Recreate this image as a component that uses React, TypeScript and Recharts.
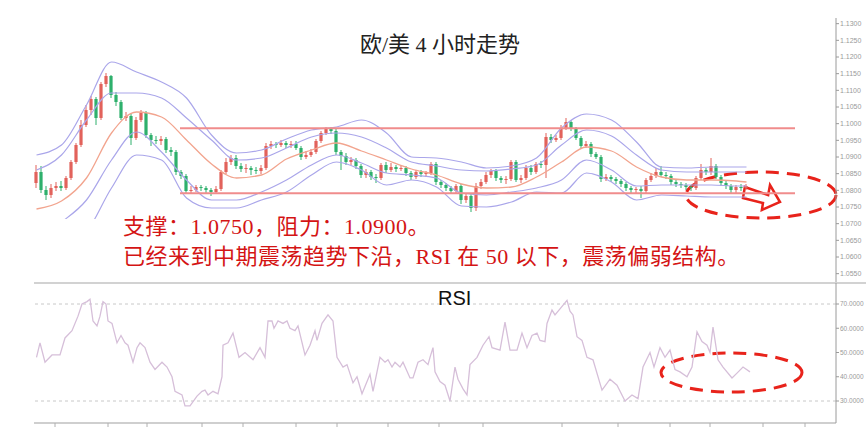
import React from 'react';
import { ComposedChart, Bar, Line, XAxis, YAxis, ReferenceLine, ReferenceArea } from 'recharts';

// ---------- price data (EUR/USD, 4H candles) ----------
const openPrices = [
  1.0822,1.0855,1.0801,1.0786,1.0807,1.0813,1.0807,1.0837,1.0885,1.0936,
  1.0996,1.1041,1.1074,1.1017,1.1119,1.1143,1.1086,1.1065,1.1017,1.1023,
  1.0957,1.1011,1.1032,1.0966,1.0951,1.0948,1.0954,1.0921,1.0915,1.0855,
  1.0843,1.0798,1.0801,1.0810,1.0807,1.0801,1.0795,1.0804,1.0855,1.0885,
  1.0897,1.0873,1.0864,1.0867,1.0861,1.0858,1.0867,1.0933,1.0939,1.0936,
  1.0942,1.0936,1.0939,1.0927,1.0900,1.0906,1.0915,1.0948,1.0972,1.0984,
  1.0978,1.0915,1.0903,1.0885,1.0891,1.0873,1.0846,1.0855,1.0840,1.0837,
  1.0876,1.0861,1.0870,1.0864,1.0867,1.0852,1.0840,1.0855,1.0849,1.0852,
  1.0879,1.0825,1.0816,1.0807,1.0798,1.0813,1.0771,1.0783,1.0747,1.0813,
  1.0825,1.0846,1.0858,1.0837,1.0831,1.0834,1.0885,1.0831,1.0837,1.0867,
  1.0855,1.0879,1.0876,1.0960,1.0951,1.0957,1.0987,1.1005,1.0984,1.0957,
  1.0933,1.0939,1.0909,1.0900,1.0834,1.0840,1.0834,1.0828,1.0819,1.0807,
  1.0801,1.0804,1.0798,1.0831,1.0843,1.0855,1.0846,1.0843,1.0825,1.0819,
  1.0816,1.0810,1.0807,1.0837,1.0861,1.0855,1.0873,1.0840,1.0822,1.0813,
  1.0801,1.0810,1.0807,
];
const closePrices = [
  1.0855,1.0801,1.0786,1.0807,1.0813,1.0807,1.0837,1.0885,1.0936,1.0996,
  1.1041,1.1074,1.1017,1.1119,1.1143,1.1086,1.1065,1.1017,1.1023,1.0957,
  1.1011,1.1032,1.0966,1.0951,1.0948,1.0954,1.0921,1.0915,1.0855,1.0843,
  1.0798,1.0801,1.0810,1.0807,1.0801,1.0795,1.0804,1.0855,1.0885,1.0897,
  1.0873,1.0864,1.0867,1.0861,1.0858,1.0867,1.0933,1.0939,1.0936,1.0942,
  1.0936,1.0939,1.0927,1.0900,1.0906,1.0915,1.0948,1.0972,1.0984,1.0978,
  1.0915,1.0903,1.0885,1.0891,1.0873,1.0846,1.0855,1.0840,1.0837,1.0876,
  1.0861,1.0870,1.0864,1.0867,1.0852,1.0840,1.0855,1.0849,1.0852,1.0879,
  1.0825,1.0816,1.0807,1.0798,1.0813,1.0771,1.0783,1.0747,1.0813,1.0825,
  1.0846,1.0858,1.0837,1.0831,1.0834,1.0885,1.0831,1.0837,1.0867,1.0855,
  1.0879,1.0876,1.0960,1.0951,1.0957,1.0987,1.1005,1.0984,1.0957,1.0933,
  1.0939,1.0909,1.0900,1.0834,1.0840,1.0834,1.0828,1.0819,1.0807,1.0801,
  1.0804,1.0798,1.0831,1.0843,1.0855,1.0846,1.0843,1.0825,1.0819,1.0816,
  1.0810,1.0807,1.0837,1.0861,1.0855,1.0873,1.0840,1.0822,1.0813,1.0801,
  1.0810,1.0807,1.0813,
];
const highPrices = [
  1.0876,1.0873,1.0813,1.0819,1.0825,1.0828,1.0843,1.0891,1.0942,1.1011,
  1.1056,1.1083,1.1080,1.1125,1.1152,1.1146,1.1095,1.1071,1.1035,1.1029,
  1.1020,1.1041,1.1038,1.0972,1.0963,1.0963,1.0960,1.0930,1.0921,1.0861,
  1.0849,1.0813,1.0816,1.0816,1.0813,1.0807,1.0813,1.0861,1.0897,1.0906,
  1.0906,1.0882,1.0879,1.0873,1.0870,1.0876,1.0942,1.0948,1.0945,1.0951,
  1.0948,1.0948,1.0948,1.0933,1.0918,1.0924,1.0954,1.0978,1.0990,1.0990,
  1.0984,1.0921,1.0912,1.0900,1.0897,1.0879,1.0864,1.0861,1.0849,1.0882,
  1.0885,1.0882,1.0876,1.0876,1.0873,1.0858,1.0861,1.0861,1.0858,1.0885,
  1.0885,1.0831,1.0822,1.0813,1.0819,1.0819,1.0789,1.0789,1.0822,1.0834,
  1.0855,1.0864,1.0864,1.0843,1.0843,1.0891,1.0891,1.0846,1.0876,1.0876,
  1.0885,1.0888,1.0972,1.0969,1.0966,1.0996,1.1017,1.1011,1.0990,1.0963,
  1.0948,1.0945,1.0915,1.0906,1.0849,1.0846,1.0840,1.0834,1.0825,1.0813,
  1.0810,1.0813,1.0837,1.0852,1.0867,1.0873,1.0855,1.0849,1.0831,1.0825,
  1.0822,1.0816,1.0843,1.0879,1.0867,1.0897,1.0879,1.0846,1.0828,1.0819,
  1.0816,1.0819,1.0819,
];
const lowPrices = [
  1.0807,1.0792,1.0771,1.0777,1.0798,1.0798,1.0801,1.0831,1.0879,1.0930,
  1.0990,1.1026,1.0996,1.1011,1.1110,1.1077,1.1053,1.1011,1.1008,1.0936,
  1.0951,1.1005,1.0957,1.0933,1.0939,1.0936,1.0912,1.0903,1.0846,1.0834,
  1.0789,1.0789,1.0795,1.0798,1.0789,1.0783,1.0789,1.0798,1.0849,1.0876,
  1.0864,1.0855,1.0852,1.0846,1.0849,1.0849,1.0861,1.0924,1.0927,1.0930,
  1.0927,1.0927,1.0921,1.0891,1.0894,1.0900,1.0909,1.0942,1.0966,1.0969,
  1.0906,1.0861,1.0876,1.0876,1.0864,1.0837,1.0837,1.0831,1.0822,1.0831,
  1.0852,1.0855,1.0855,1.0858,1.0843,1.0831,1.0834,1.0840,1.0840,1.0846,
  1.0816,1.0807,1.0798,1.0789,1.0792,1.0759,1.0762,1.0735,1.0738,1.0804,
  1.0819,1.0837,1.0828,1.0822,1.0819,1.0828,1.0825,1.0822,1.0831,1.0846,
  1.0849,1.0867,1.0837,1.0942,1.0945,1.0951,1.0981,1.0978,1.0951,1.0924,
  1.0927,1.0900,1.0894,1.0825,1.0828,1.0825,1.0819,1.0810,1.0798,1.0792,
  1.0792,1.0777,1.0789,1.0825,1.0837,1.0840,1.0834,1.0816,1.0810,1.0807,
  1.0801,1.0798,1.0801,1.0831,1.0846,1.0846,1.0834,1.0813,1.0804,1.0792,
  1.0792,1.0798,1.0801,
];

// ---------- Bollinger bands (sampled at candle indexes) ----------
const bandIndex = [0,5,10,15,20,25,30,35,40,45,50,55,60,65,70,75,80,85,90,95,100,105,110,115,120,125,130,135,140,142];
const bandOuterUpper = [1.0906,1.0936,1.1056,1.1185,1.1155,1.1125,1.1077,1.0966,1.0912,1.0921,1.0954,1.0981,1.0990,1.1011,1.0972,1.0900,1.0897,1.0885,1.0867,1.0873,1.0897,1.0987,1.1029,1.1011,1.0945,1.0870,1.0867,1.0870,1.0870,1.0870];
const bandInnerUpper = [1.0861,1.0906,1.1011,1.1092,1.1092,1.1077,1.1017,1.0951,1.0891,1.0897,1.0927,1.0960,1.0972,1.0960,1.0927,1.0885,1.0873,1.0861,1.0858,1.0864,1.0876,1.0936,1.0981,1.0963,1.0906,1.0861,1.0855,1.0855,1.0855,1.0855];
const bandMiddle = [1.0744,1.0768,1.0837,1.0972,1.1035,1.1020,1.0951,1.0879,1.0837,1.0846,1.0894,1.0921,1.0942,1.0918,1.0891,1.0864,1.0846,1.0819,1.0807,1.0810,1.0840,1.0885,1.0930,1.0918,1.0870,1.0840,1.0831,1.0831,1.0828,1.0825];
const bandInnerLower = [1.0657,1.0705,1.0771,1.0891,1.0975,1.0915,1.0831,1.0771,1.0771,1.0795,1.0831,1.0876,1.0906,1.0882,1.0852,1.0846,1.0837,1.0792,1.0786,1.0795,1.0807,1.0831,1.0891,1.0861,1.0813,1.0816,1.0816,1.0816,1.0813,1.0813];
const bandOuterLower = [1.0597,1.0627,1.0675,1.0807,1.0906,1.0891,1.0777,1.0747,1.0747,1.0771,1.0795,1.0846,1.0885,1.0861,1.0816,1.0831,1.0810,1.0753,1.0750,1.0765,1.0795,1.0792,1.0852,1.0825,1.0771,1.0786,1.0783,1.0780,1.0780,1.0780];

// ---------- RSI ----------
const rsiPos = [0,0.7,1.7,3.1,4.7,5.7,7.1,8.3,9.1,10.1,10.7,11.3,12.1,12.7,13.3,13.9,14.3,15.1,16.1,16.9,17.7,18.3,19.3,20.1,20.7,21.7,22.7,23.7,25.1,26.1,27.1,27.7,29.1,29.7,30.7,32.1,33.1,33.7,34.3,35.3,36.3,37.1,37.3,38.3,39.3,40.5,41.7,43.3,44.7,45.7,46.3,47.1,47.5,48.3,49.3,50.1,50.7,51.7,52.3,53.7,54.7,55.7,56.1,57.1,58.3,59.3,60.1,61.3,62.1,63.3,64.1,65.1,66.7,67.3,68.7,69.7,70.3,71.1,71.7,72.7,73.3,74.7,75.3,76.3,77.3,78.3,78.7,79.3,79.7,80.7,81.7,82.7,83.7,84.3,85.3,86.1,86.7,88.1,89.3,90.5,91.1,92.7,93.7,94.7,96.1,97.1,98.1,99.1,100.1,100.7,101.7,102.1,103.1,103.7,104.7,106.1,106.7,107.3,108.1,109.1,110.1,111.3,113.1,114.7,116.1,117.7,119.1,120.3,121.3,122.7,123.5,124.7,125.7,126.7,127.7,128.7,130.1,131.1,132.1,133.1,134.1,134.7,135.3,136.3,137.3,139.1,140.1,141.3,142.7];
const rsiValues = [48,54,46,49,49,56,59,65,70,71,72,63,61,65,71,70,63,62,54,57,54,53,46,52,54,52,46,43,46,44,40,34,32.5,28,28,32,34,34.5,32.5,34,33,40,53,54,58,48,50,47,52,48,63,63,60,63,62,63,60,59,61,49,53,59,55,62,65.5,63,48,44,45,37.5,40,33,41,34,48,46,47,44,46,44,46,39.5,39.5,46,47,45,48,52,42,38,36.5,30,44,39,35,32.5,45,48,53,56.5,52,51,62.5,51,51,58,52,57,58,55,54.5,62,67.5,65.5,68,71.5,67,65.5,56.5,55,48,47,34.5,39,36.5,30,32.5,31,44,50,44,52,48,51,43,42,40,44,58.5,54.5,53,50,60.5,47,44,39.5,41.5,44,42];

// ---------- axes / levels / annotations ----------
const priceTicks = [1.055,1.06,1.065,1.07,1.075,1.08,1.085,1.09,1.095,1.1,1.105,1.11,1.115,1.12,1.125,1.13];
const rsiTicks = [30,40,50,60,70];
const rsiLevels = [70, 30];
const xTickPositions = [3.7,14.3,22.1,33.1,41.3,51.9,60.1,70.3,80.5,89.3,105.1,116.3,126.7,134.7,145.3,153.7];
const upperRangeLine = 1.0986;
const lowerRangeLine = 1.0791;
const rangeFrom = 28.7;
const rangeTo = 151.7;
const priceEllipse = { x1: 129.9, x2: 159.9, y1: 1.0717, y2: 1.0855 };
const arrowBox = { x1: 141.3, x2: 148.7, y1: 1.0741, y2: 1.0816 };
const rsiEllipse = { x1: 124.9, x2: 153.1, y1: 33.7, y2: 49.8 };

const titleText = '欧/美 4 小时走势';
const noteLine1 = '支撑：1.0750，阻力：1.0900。';
const noteLine2 = '已经来到中期震荡趋势下沿，RSI 在 50 以下，震荡偏弱结构。';

const X_DOMAIN: [number, number] = [-0.5, 159.9];
const PRICE_DOMAIN: [number, number] = [1.0522, 1.1317];
const RSI_DOMAIN: [number, number] = [20.93, 78.66];

const candleData = openPrices.map((open, i) => ({
  i,
  open,
  close: closePrices[i],
  high: highPrices[i],
  low: lowPrices[i],
  range: [lowPrices[i], highPrices[i]],
}));
const bandData = bandIndex.map((i, k) => ({
  i,
  ou: bandOuterUpper[k],
  iu: bandInnerUpper[k],
  mid: bandMiddle[k],
  il: bandInnerLower[k],
  ol: bandOuterLower[k],
}));
const rsiData = rsiPos.map((i, k) => ({ i, rsi: rsiValues[k] }));

const UP = '#e2625b';
const DOWN = '#2eb06c';
const BAND = '#aaa6ea';
const MID = '#f2a48e';
const ANNOT = '#e8231b';
const TEXT_FONT = '"Liberation Serif", "Noto Sans CJK SC", serif';

const Candle = (props: any) => {
  const { x, y, width, height, payload } = props;
  if (!payload || height == null) return null;
  const { open, close, high, low } = payload;
  const top = Math.min(y, y + height);
  const h = Math.abs(height);
  const ratio = h / (high - low);
  const color = close >= open ? UP : DOWN;
  const bTop = top + (high - Math.max(open, close)) * ratio;
  const bBot = top + (high - Math.min(open, close)) * ratio;
  const cx = x + width / 2;
  return (
    <g>
      <line x1={cx} x2={cx} y1={top} y2={top + h} stroke={color} strokeWidth={1} />
      <rect x={cx - 1.6} y={bTop} width={3.2} height={Math.max(1, bBot - bTop)} fill={color} />
    </g>
  );
};

const EllipseShape = (p: any) => {
  const x = Math.min(p.x, p.x + p.width);
  const y = Math.min(p.y, p.y + p.height);
  const w = Math.abs(p.width);
  const h = Math.abs(p.height);
  return (
    <ellipse cx={x + w / 2} cy={y + h / 2} rx={w / 2} ry={h / 2} fill="none"
      stroke={ANNOT} strokeWidth={3} strokeDasharray="13 8" />
  );
};

const arrowPts = [[0.05,0.08],[0.68,0.4],[0.73,0],[1,0.68],[0.51,1],[0.54,0.72],[0,0.52]];
const ArrowShape = (p: any) => {
  const x = Math.min(p.x, p.x + p.width);
  const y = Math.min(p.y, p.y + p.height);
  const w = Math.abs(p.width);
  const h = Math.abs(p.height);
  const pts = arrowPts.map(([a, b]) => `${x + a * w},${y + b * h}`).join(' ');
  return <polygon points={pts} fill="#ffffff" stroke={ANNOT} strokeWidth={2.5} strokeLinejoin="miter" />;
};

const fmt4 = (v: number) => v.toFixed(4);

export default function App() {
  return (
    <div style={{ position: 'absolute', left: 0, top: 0, width: 866, height: 428, background: '#fff', overflow: 'hidden' }}>
      <div style={{ position: 'absolute', left: 0, top: 0 }}>
        <ComposedChart width={866} height={283} data={candleData} margin={{ top: 18, right: 0, bottom: 0, left: 34 }}>
          <XAxis dataKey="i" type="number" domain={X_DOMAIN} allowDataOverflow hide />
          <YAxis orientation="right" width={30} domain={PRICE_DOMAIN} allowDataOverflow ticks={priceTicks}
            tickFormatter={fmt4} tick={{ fontSize: 7, fill: '#9a9a9a', fontFamily: 'Liberation Sans' }}
            tickSize={3} tickMargin={1} axisLine={{ stroke: '#9a9a9a' }} tickLine={{ stroke: '#9a9a9a' }} interval={0} />
          <Line data={bandData} dataKey="ou" type="monotone" stroke={BAND} strokeWidth={1.2} dot={false} isAnimationActive={false} />
          <Line data={bandData} dataKey="iu" type="monotone" stroke={BAND} strokeWidth={1.2} dot={false} isAnimationActive={false} />
          <Line data={bandData} dataKey="mid" type="monotone" stroke={MID} strokeWidth={1.3} dot={false} isAnimationActive={false} />
          <Line data={bandData} dataKey="il" type="monotone" stroke={BAND} strokeWidth={1.2} dot={false} isAnimationActive={false} />
          <Line data={bandData} dataKey="ol" type="monotone" stroke={BAND} strokeWidth={1.2} dot={false} isAnimationActive={false} />
          <ReferenceLine segment={[{ x: rangeFrom, y: upperRangeLine }, { x: rangeTo, y: upperRangeLine }]} stroke="#f08c8c" strokeWidth={2} ifOverflow="visible" />
          <ReferenceLine segment={[{ x: rangeFrom, y: lowerRangeLine }, { x: rangeTo, y: lowerRangeLine }]} stroke="#f08c8c" strokeWidth={2} ifOverflow="visible" />
          <Bar dataKey="range" barSize={4} shape={<Candle />} isAnimationActive={false} />
          <ReferenceArea x1={priceEllipse.x1} x2={priceEllipse.x2} y1={priceEllipse.y1} y2={priceEllipse.y2}
            ifOverflow="visible" shape={<EllipseShape />} />
          <ReferenceArea x1={arrowBox.x1} x2={arrowBox.x2} y1={arrowBox.y1} y2={arrowBox.y2}
            ifOverflow="visible" shape={<ArrowShape />} />
        </ComposedChart>
      </div>
      {/* white text panel laid over the lower part of the price pane */}
      <div style={{ position: 'absolute', left: 34, top: 219, width: 650, height: 62, background: '#fff' }} />
      <div style={{ position: 'absolute', left: 34, top: 282, width: 832, height: 2, background: '#d2d2d2' }} />
      <div style={{ position: 'absolute', left: 0, top: 283 }}>
        <ComposedChart width={866} height={145} data={rsiData} margin={{ top: 0, right: 0, bottom: 0, left: 34 }}>
          <XAxis dataKey="i" type="number" domain={X_DOMAIN} allowDataOverflow ticks={xTickPositions}
            tickFormatter={() => ''} height={5} tickSize={4} axisLine={{ stroke: '#cfcfcf', strokeWidth: 2 }}
            tickLine={{ stroke: '#b0b0b0' }} interval={0} />
          <YAxis orientation="right" width={30} domain={RSI_DOMAIN} allowDataOverflow ticks={rsiTicks}
            tickFormatter={fmt4} tick={{ fontSize: 6.5, fill: '#9a9a9a', fontFamily: 'Liberation Sans' }}
            tickSize={3} tickMargin={1} axisLine={{ stroke: '#9a9a9a' }} tickLine={{ stroke: '#9a9a9a' }} interval={0} />
          {rsiLevels.map((lv) => (
            <ReferenceLine key={lv} y={lv} stroke="#c8c8c8" strokeDasharray="3 3" strokeWidth={1} />
          ))}
          <Line dataKey="rsi" type="linear" stroke="#d6bfd9" strokeWidth={1.3} dot={false} isAnimationActive={false} />
          <ReferenceArea x1={rsiEllipse.x1} x2={rsiEllipse.x2} y1={rsiEllipse.y1} y2={rsiEllipse.y2}
            ifOverflow="visible" shape={<EllipseShape />} />
        </ComposedChart>
      </div>
      <div style={{ position: 'absolute', left: 290, width: 300, top: 34, textAlign: 'center', fontSize: 22, lineHeight: '22px',
        fontFamily: TEXT_FONT, color: '#222', whiteSpace: 'pre' }}>{titleText}</div>
      <div style={{ position: 'absolute', left: 123, top: 216, fontSize: 22, lineHeight: '22px', letterSpacing: 0.5,
        fontFamily: TEXT_FONT, color: '#d41414', whiteSpace: 'pre' }}>{noteLine1}</div>
      <div style={{ position: 'absolute', left: 123, top: 246, fontSize: 22, lineHeight: '22px', letterSpacing: 0.5,
        fontFamily: TEXT_FONT, color: '#d41414', whiteSpace: 'pre' }}>{noteLine2}</div>
      <div style={{ position: 'absolute', left: 438, top: 288, fontSize: 20, lineHeight: '20px',
        fontFamily: '"Liberation Sans", Arial, sans-serif', color: '#111' }}>RSI</div>
    </div>
  );
}
